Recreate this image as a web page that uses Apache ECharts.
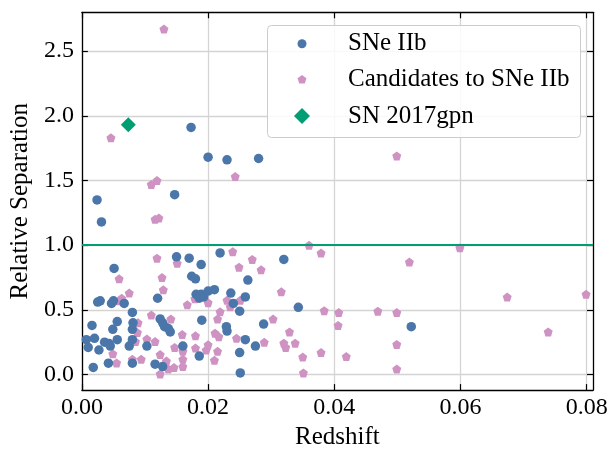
<!DOCTYPE html>
<html>
<head>
<meta charset="utf-8">
<script src="https://cdn.jsdelivr.net/npm/echarts@6/dist/echarts.min.js"></script>
<style>
  html, body { margin: 0; padding: 0; background: #ffffff; }
  #chart { width: 611px; height: 455px; }
</style>
</head>
<body>
<div id="chart"></div>
<script>
// Confirmed SNe IIb: [redshift, relative separation]
const sneIIb = [
  [0.0173, 1.91], [0.0200, 1.68], [0.0230, 1.66], [0.0280, 1.67], [0.0147, 1.39],
  [0.0024, 1.35], [0.0031, 1.18],
  [0.0150, 0.91], [0.0170, 0.90], [0.0189, 0.85], [0.0219, 0.94], [0.0320, 0.89],
  [0.0051, 0.82], [0.0174, 0.76], [0.0180, 0.74], [0.0263, 0.73],
  [0.0120, 0.59], [0.0025, 0.56], [0.0029, 0.57], [0.0047, 0.55], [0.0050, 0.57],
  [0.0067, 0.55], [0.0181, 0.62], [0.0189, 0.62], [0.0186, 0.59], [0.0193, 0.60],
  [0.0200, 0.645], [0.0210, 0.656], [0.0236, 0.63], [0.0240, 0.55], [0.0259, 0.60],
  [0.0250, 0.49], [0.0343, 0.52], [0.0080, 0.48],
  [0.0016, 0.38], [0.0056, 0.41], [0.0049, 0.35], [0.0081, 0.40], [0.0080, 0.35],
  [0.0124, 0.43], [0.0128, 0.40], [0.0131, 0.37], [0.0137, 0.356], [0.0140, 0.33],
  [0.0190, 0.42], [0.0229, 0.37], [0.0230, 0.336], [0.0288, 0.39], [0.0522, 0.37],
  [0.0007, 0.27], [0.0020, 0.28], [0.0010, 0.21], [0.0027, 0.19], [0.0036, 0.25],
  [0.0043, 0.24], [0.0045, 0.22], [0.0056, 0.27], [0.0075, 0.22], [0.0080, 0.27],
  [0.0103, 0.22], [0.0160, 0.22], [0.0259, 0.27], [0.0275, 0.22],
  [0.0018, 0.055], [0.0042, 0.088], [0.0080, 0.088], [0.0116, 0.08], [0.0128, 0.062],
  [0.0186, 0.143], [0.0250, 0.17], [0.0251, 0.013]
];

// Candidate SNe IIb: [redshift, relative separation]
const candidates = [
  [0.0130, 2.67], [0.0046, 1.83], [0.0110, 1.47], [0.0119, 1.50], [0.0243, 1.53],
  [0.0499, 1.69], [0.0116, 1.20], [0.0122, 1.21],
  [0.0119, 0.90], [0.0151, 0.86], [0.0239, 0.95], [0.0249, 0.83], [0.0270, 0.89],
  [0.0284, 0.81], [0.0360, 1.00], [0.0379, 0.94], [0.0519, 0.87], [0.0599, 0.98],
  [0.0059, 0.74], [0.0127, 0.75], [0.0075, 0.63], [0.0129, 0.656], [0.0063, 0.59],
  [0.0059, 0.57], [0.0167, 0.54], [0.0179, 0.586], [0.0200, 0.556], [0.0230, 0.574],
  [0.0251, 0.574], [0.0235, 0.524], [0.0316, 0.64], [0.0674, 0.60], [0.0799, 0.62],
  [0.0110, 0.46], [0.0141, 0.43], [0.0219, 0.486], [0.0215, 0.43], [0.0303, 0.43],
  [0.0384, 0.494], [0.0407, 0.48], [0.0469, 0.49], [0.0499, 0.48], [0.0406, 0.38],
  [0.0329, 0.33], [0.0739, 0.33],
  [0.0089, 0.40], [0.0088, 0.325], [0.0103, 0.275], [0.0085, 0.255], [0.0116, 0.255],
  [0.0147, 0.21], [0.0159, 0.31], [0.0180, 0.30], [0.0211, 0.32], [0.0217, 0.293],
  [0.0245, 0.28], [0.0289, 0.25], [0.0320, 0.243], [0.0323, 0.21], [0.0338, 0.243],
  [0.0499, 0.233],
  [0.0200, 0.23], [0.0197, 0.19], [0.0215, 0.18], [0.0180, 0.205], [0.0049, 0.16],
  [0.0055, 0.09], [0.0080, 0.118], [0.0094, 0.118], [0.0124, 0.155], [0.0134, 0.105],
  [0.0160, 0.118], [0.0160, 0.18], [0.0210, 0.11], [0.0379, 0.17], [0.0350, 0.135],
  [0.0419, 0.14],
  [0.0124, 0.005], [0.0137, 0.043], [0.0146, 0.055], [0.0160, 0.062], [0.0351, 0.013],
  [0.0499, 0.043]
];

// SN 2017gpn
const sn2017gpn = [[0.00736, 1.93]];

// Reference separation level
const referenceSeparation = 1.0;

// Axis ranges and tick labels
const redshiftRange = [0, 0.081];
const separationRange = [-0.12, 2.8];
const redshiftTicks = [0, 0.02, 0.04, 0.06, 0.08];
const separationTicks = [0, 0.5, 1, 1.5, 2, 2.5];

const seriesNames = ['SNe IIb', 'Candidates to SNe IIb', 'SN 2017gpn'];

const FONT = '"Liberation Serif", "Times New Roman", serif';
const BLUE = '#4b76a9';
const PINK = '#cf93c3';
const GREEN = '#029e73';
const PENTAGON = 'path://M0,-1L0.951,-0.309L0.588,0.809L-0.588,0.809L-0.951,-0.309Z';
const DIAMOND = 'path://M0,-1L1,0L0,1L-1,0Z';

const chart = echarts.init(document.getElementById('chart'), null, { renderer: 'canvas' });

function xAxisCfg(position, showLabels) {
  return {
    type: 'value',
    position: position,
    min: redshiftRange[0],
    max: redshiftRange[1],
    name: showLabels ? 'Redshift' : '',
    nameLocation: 'middle',
    nameGap: 29,
    nameTextStyle: { fontFamily: FONT, fontSize: 25, color: '#000' },
    axisLine: { show: true, onZero: false, lineStyle: { color: '#000', width: 1.3 } },
    axisTick: { show: true, inside: true, length: 6, customValues: redshiftTicks,
                lineStyle: { color: '#000', width: 1.2 } },
    axisLabel: { show: showLabels, customValues: redshiftTicks, margin: 6,
                 fontFamily: FONT, fontSize: 24, color: '#000',
                 formatter: v => v.toFixed(2) },
    splitLine: { show: showLabels, lineStyle: { color: '#d4d4d4', width: 1.3 } }
  };
}

function yAxisCfg(position, showLabels) {
  return {
    type: 'value',
    position: position,
    min: separationRange[0],
    max: separationRange[1],
    name: showLabels ? 'Relative Separation' : '',
    nameLocation: 'middle',
    nameGap: 43,
    nameTextStyle: { fontFamily: FONT, fontSize: 25, color: '#000' },
    axisLine: { show: true, onZero: false, lineStyle: { color: '#000', width: 1.3 } },
    axisTick: { show: true, inside: true, length: 6, customValues: separationTicks,
                lineStyle: { color: '#000', width: 1.2 } },
    axisLabel: { show: showLabels, customValues: separationTicks, margin: 8,
                 fontFamily: FONT, fontSize: 24, color: '#000',
                 formatter: v => v.toFixed(1) },
    splitLine: { show: showLabels, lineStyle: { color: '#d4d4d4', width: 1.3 } }
  };
}

// One legend per entry so each marker keeps its own size; the icon is
// centred at x = 302 and the text starts at x = 348.
function legendCfg(name, icon, size, iconWidth, centerY) {
  return {
    data: [{ name: name, icon: icon }],
    orient: 'vertical',
    left: 302 - iconWidth / 2,
    top: centerY - 12.5,
    padding: 0,
    itemWidth: 82,
    itemHeight: size,
    symbolKeepAspect: true,
    textStyle: { fontFamily: FONT, fontSize: 25, color: '#000', lineHeight: 25 }
  };
}

chart.setOption({
  animation: false,
  backgroundColor: '#ffffff',
  grid: { left: 75.5, right: 18, top: 12.3, bottom: 55, containLabel: false },
  xAxis: [xAxisCfg('bottom', true), xAxisCfg('top', false)],
  yAxis: [yAxisCfg('left', true), yAxisCfg('right', false)],
  legend: [
    legendCfg(seriesNames[0], 'circle', 9, 9, 43.7),
    legendCfg(seriesNames[1], PENTAGON, 8.5, 8.94, 79.3),
    legendCfg(seriesNames[2], DIAMOND, 16, 16, 116)
  ],
  graphic: [{
    type: 'rect',
    z: 3,
    shape: { x: 267.5, y: 25.5, width: 313, height: 112, r: 4 },
    style: { fill: 'rgba(255,255,255,0.85)', stroke: '#cccccc', lineWidth: 1 },
    silent: true
  }],
  series: [
    {
      name: seriesNames[1],
      type: 'scatter',
      data: candidates,
      symbol: PENTAGON,
      symbolSize: 9,
      itemStyle: { color: PINK, opacity: 1 },
      z: 2
    },
    {
      name: seriesNames[0],
      type: 'scatter',
      data: sneIIb,
      symbol: 'circle',
      symbolSize: 9.5,
      itemStyle: { color: BLUE, opacity: 1 },
      z: 2
    },
    {
      name: seriesNames[2],
      type: 'scatter',
      data: sn2017gpn,
      symbol: 'diamond',
      symbolSize: 15,
      itemStyle: { color: GREEN, opacity: 1 },
      z: 2,
      markLine: {
        silent: true,
        symbol: ['none', 'none'],
        label: { show: false },
        lineStyle: { color: GREEN, width: 2, type: 'solid' },
        emphasis: { disabled: true },
        data: [{ yAxis: referenceSeparation }]
      }
    }
  ]
});
</script>
</body>
</html>
